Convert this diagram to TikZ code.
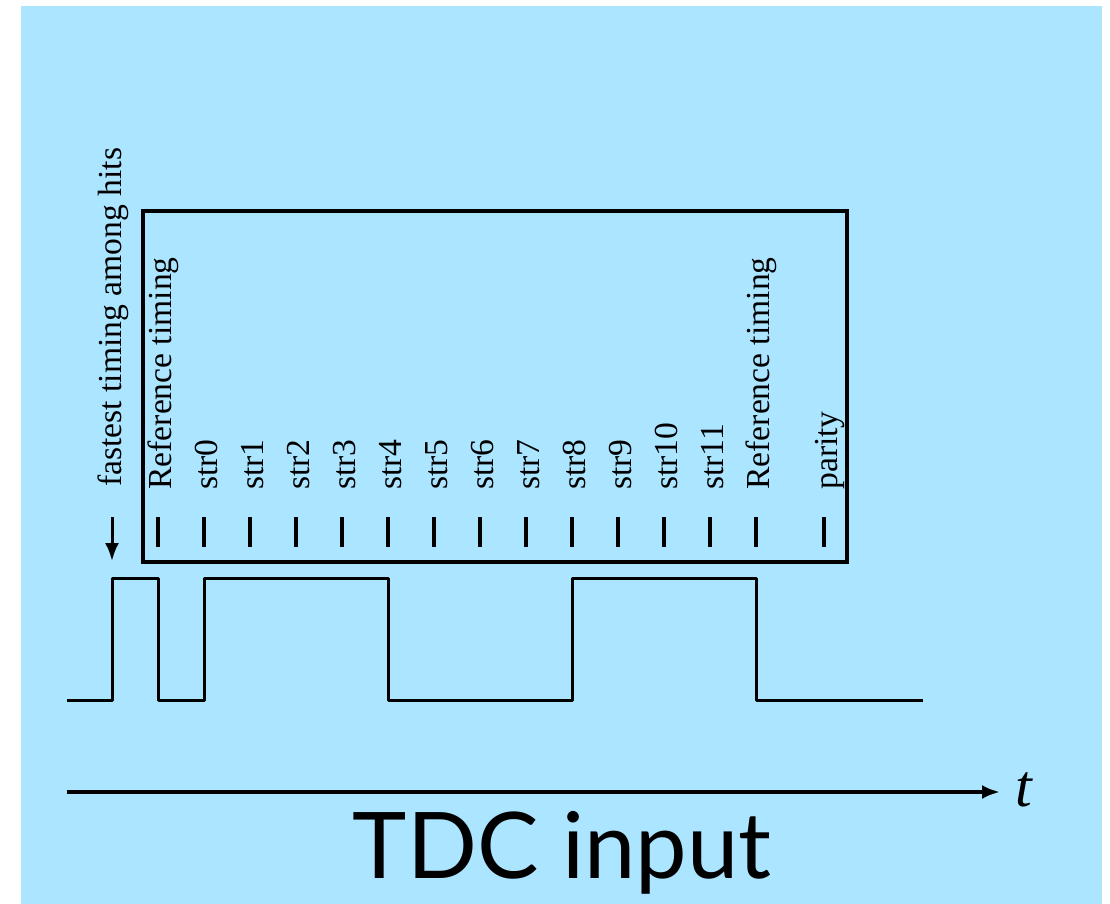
\documentclass[tikz,border=0pt]{standalone}
\usepackage{fontspec}
\setmainfont{Liberation Serif}
\newfontfamily\gillfont{Lato}
\usetikzlibrary{arrows.meta,positioning}
\definecolor{SlideBlue}{RGB}{171,229,255}

\tikzset{
  slot/.style={rotate=90,anchor=base west,inner sep=0pt,font=\fontsize{16.8}{18}\selectfont},
  slottick/.style={line width=2pt},
  wave/.style={line width=1.5pt,line join=round},
}

\begin{document}
\begin{tikzpicture}[x=0.5pt,y=-0.5pt,>={Latex[length=9pt,width=7pt]}]
\useasboundingbox (0,0) rectangle (1110,904);
\fill[SlideBlue] (21,6) rectangle (1102,904);
% data frame
\draw[line width=1.6pt] (143,211) rectangle (847,562);
\node[slot] (fast) at (121,487) {fastest timing among hits};
\coordinate (fasttip) at (112,561);
\draw[->,line width=1.5pt] (112,517) -- (fasttip);
\draw[slottick] (158,517) -- (158,547);
\node[slot] (ref0) at (171,490) {Reference timing};
\foreach \i in {0,...,11}{
  \pgfmathsetmacro\xx{204+46*\i}
  \draw[slottick] (\xx,517) -- (\xx,547);
  \node[slot] (str\i) at (\xx+13,490) {str\i};
}
\draw[slottick] (756,517) -- (756,547);
\node[slot] (ref1) at (769,490) {Reference timing};
\draw[slottick] (824,517) -- (824,547);
\node[slot] (par) at (837,490) {parity};
% signal
\draw[wave] (67,700) -- (112,700) -- (112,578) -- (158,578) -- (158,700)
  -- (204,700) -- (204,578) -- (388,578) -- (388,700) -- (572,700)
  -- (572,578) -- (756,578) -- (756,700) -- (923,700);
% time axis
\coordinate (t0) at (67,792);
\node[inner sep=0pt,anchor=base west,font=\fontsize{30}{32}\selectfont\itshape] (tlab) at (1015,806) {t};
\coordinate (t1) at (1000,792);
\draw[->,line width=1.8pt] (t0) -- (t1);
\node[inner sep=0pt,anchor=base,font=\gillfont\fontsize{46}{50}\selectfont] (title) at (562,878) {TDC input};
\end{tikzpicture}
\end{document}
